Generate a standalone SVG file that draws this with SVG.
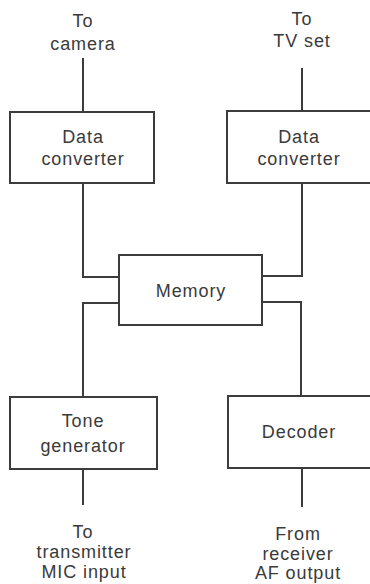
<svg xmlns="http://www.w3.org/2000/svg" width="370" height="584" viewBox="0 0 370 584">
<style>
.box{fill:#fff;stroke:#3c3c3c;stroke-width:2}
.ln{fill:none;stroke:#3c3c3c;stroke-width:2}
text{font-family:"Liberation Sans",Arial,sans-serif;font-size:18px;fill:#3a3a3a;text-anchor:middle;letter-spacing:0.9px}
</style>
<rect width="370" height="584" fill="#fff"/>
<g id="connectors">
<path class="ln" d="M83 58V112"/>
<path class="ln" d="M302 68V111"/>
<path class="ln" d="M83 183V277H119"/>
<path class="ln" d="M302 183V276H262"/>
<path class="ln" d="M119 303H83V397"/>
<path class="ln" d="M262 302H301V396"/>
<path class="ln" d="M83 469V505"/>
<path class="ln" d="M302 468V507"/>
</g>
<g id="label-camera">
<text x="83" y="27">To</text>
<text x="83" y="50">camera</text>
</g>
<g id="label-tv">
<text x="302" y="25">To</text>
<text x="302" y="47">TV set</text>
</g>
<g id="dc1">
<rect class="box" x="10" y="112" width="144" height="71"/>
<text x="83" y="143">Data</text>
<text x="83" y="165">converter</text>
</g>
<g id="dc2">
<rect class="box" x="227" y="111" width="146" height="72"/>
<text x="299" y="143">Data</text>
<text x="299" y="165">converter</text>
</g>
<g id="memory">
<rect class="box" x="119" y="255" width="143" height="70"/>
<text x="191" y="297">Memory</text>
</g>
<g id="tone">
<rect class="box" x="10" y="397" width="147" height="72"/>
<text x="83" y="427">Tone</text>
<text x="83" y="452">generator</text>
</g>
<g id="decoder">
<rect class="box" x="228" y="396" width="145" height="72"/>
<text x="299" y="438">Decoder</text>
</g>
<g id="label-tx">
<text x="83" y="538">To</text>
<text x="84" y="558">transmitter</text>
<text x="84" y="578">MIC input</text>
</g>
<g id="label-rx">
<text x="298" y="540">From</text>
<text x="298" y="560">receiver</text>
<text x="298" y="579">AF output</text>
</g>
</svg>
